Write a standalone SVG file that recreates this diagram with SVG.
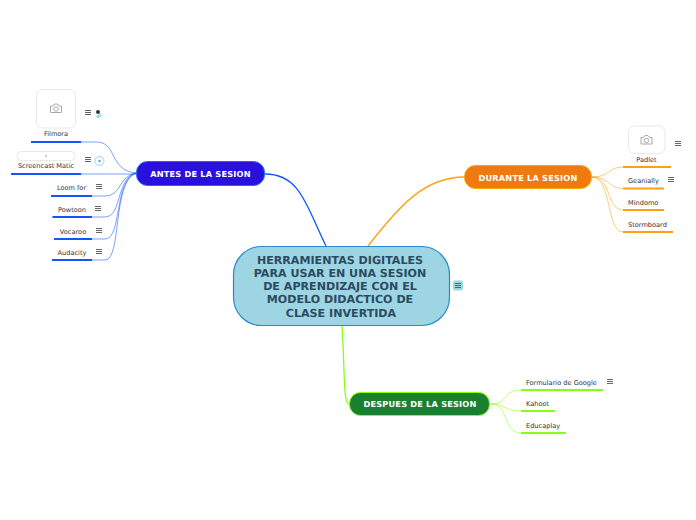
<svg xmlns="http://www.w3.org/2000/svg" width="696" height="520" viewBox="0 0 696 520">
<style>
text{font-family:"DejaVu Sans",Verdana,sans-serif;text-rendering:geometricPrecision}
.leaf{font-size:6.600px;fill:#333;text-anchor:middle}
.leafs{font-size:6.600px;fill:#333}
.branch{font-size:8.200px;font-weight:bold;fill:#fff;text-anchor:middle;letter-spacing:.2px}
.root{font-size:11.100px;font-weight:bold;fill:#2c4a60;text-anchor:middle}
.imgbox{fill:#fff;stroke:#e9e9e9;stroke-width:1}
.cam{fill:none;stroke:#a8a8a8;stroke-width:1}
.c{fill:none;stroke-width:1;opacity:.55}
.u{fill:none;stroke-width:2}
.main{fill:none;stroke-width:1.300}
.blue{stroke:#1155ff}.org{stroke:#ffa010}.grn{stroke:#88ff11}
</style>
<defs>
<g id="notes"><path d="M0 0.500H6M0 2.500H6M0 4.500H6" fill="none" stroke="#555" stroke-width=".9"/></g>
<g id="camera"><path class="cam" d="M-5.500 -2.500h2.500l1.500-2h3l1.500 2h2.500v6.500h-11z"/><circle class="cam" cx="0" cy="0.500" r="2.200"/></g>
</defs>
<g id="connectors">
<path class="main blue" d="M265 174C300 174 306 205 326 246"/>
<path class="main org" d="M464 177C425 177 400 205 368 246"/>
<path class="main grn" d="M349 404C343 404 345 370 342 326"/>
<g class="blue">
<path class="c" d="M81 142H96C118 142 108 170 136 173"/>
<path class="c" d="M81 174H136"/>
<path class="c" d="M92 196H105C122 196 118 176 136 173"/>
<path class="c" d="M92 217H105C122 217 116 178 136 173"/>
<path class="c" d="M92 239H105C122 239 114 180 136 173"/>
<path class="c" d="M92 260H105C122 260 112 182 136 173"/>
<path class="u" d="M31 142H81M11 174H81M51 196H92M52.500 217H92M54 239H92M52 260H92"/>
</g>
<g class="org">
<path class="c" d="M592 177C610 177 608 167 623 167"/>
<path class="c" d="M592 177C610 177 608 188.500 623 188.500"/>
<path class="c" d="M592 177C612 177 606 210 623 210"/>
<path class="c" d="M592 177C612 177 606 232 623 232"/>
<path class="u" d="M623 167H671M623 188.500H664M623 210H664M623 232H673"/>
</g>
<g class="grn">
<path class="c" d="M490 404C510 404 502 390 521 390"/>
<path class="c" d="M490 404C505 404 505 411 521 411"/>
<path class="c" d="M490 404C510 404 502 433 521 433"/>
<path class="u" d="M521 390H603M521 411H555M521 433H566"/>
</g>
</g>
<g id="root">
<rect x="233.500" y="246.500" width="216" height="79" rx="28" fill="#9dd5e3" stroke="#2a88cc" stroke-width="1.200"/>
<text class="root" x="340" y="264">HERRAMIENTAS DIGITALES</text>
<text class="root" x="340" y="277">PARA USAR EN UNA SESION</text>
<text class="root" x="340" y="290">DE APRENDIZAJE CON EL</text>
<text class="root" x="340" y="303">MODELO DIDACTICO DE</text>
<text class="root" x="341" y="317">CLASE INVERTIDA</text>
<rect x="453" y="280.500" width="10" height="10" rx="2" fill="#9dd5e3"/>
<use href="#notes" x="455" y="283"/>
</g>
<g id="antes">
<rect x="136.500" y="161.500" width="128" height="24" rx="11" fill="#2a10dd" stroke="#1a66ff"/>
<text class="branch" x="200.500" y="177">ANTES DE LA SESION</text>
</g>
<g id="durante">
<rect x="464.500" y="165.500" width="127" height="23" rx="11" fill="#ee7a10" stroke="#ffa500"/>
<text class="branch" x="528" y="180.500">DURANTE LA SESION</text>
</g>
<g id="despues">
<rect x="349.500" y="392.500" width="140" height="23" rx="11" fill="#1a8030" stroke="#88ff11"/>
<text class="branch" x="420" y="407">DESPUES DE LA SESION</text>
</g>
<g id="filmora">
<rect class="imgbox" x="36.500" y="89.500" width="39" height="38.500" rx="6"/>
<use href="#camera" x="56" y="108.500"/>
<text class="leaf" x="56" y="136">Filmora</text>
<use href="#notes" x="85" y="110"/>
<circle cx="98" cy="112" r="2" fill="#334"/>
<path d="M96 116l4-2 2 1-3 3h-2z" fill="#8fe3d8"/>
</g>
<g id="screencast">
<rect class="imgbox" x="17" y="151.500" width="58" height="9" rx="4"/>
<circle cx="46" cy="156" r="1.200" fill="#ccc"/>
<text class="leaf" x="46" y="168">Screencast Matic</text>
<use href="#notes" x="85" y="157"/>
<circle cx="99.500" cy="161" r="4.500" fill="#fff" stroke="#8cc4ee" stroke-width=".8"/>
<circle cx="99.500" cy="161" r="1.300" fill="#55aaee"/>
</g>
<g id="loom"><text class="leaf" x="71.500" y="190">Loom for</text><use href="#notes" x="96" y="184"/></g>
<g id="powtoon"><text class="leaf" x="72" y="212">Powtoon</text><use href="#notes" x="95" y="206"/></g>
<g id="vocaroo"><text class="leaf" x="73" y="234">Vocaroo</text><use href="#notes" x="96" y="228"/></g>
<g id="audacity"><text class="leaf" x="72" y="255">Audacity</text><use href="#notes" x="96" y="249"/></g>
<g id="padlet">
<rect class="imgbox" x="628.500" y="126" width="36.500" height="27.500" rx="6"/>
<use href="#camera" x="646.500" y="140"/>
<text class="leaf" x="646.500" y="162">Padlet</text>
<use href="#notes" x="675" y="141"/>
</g>
<g id="geanially"><text class="leafs" x="628" y="183">Geanially</text><use href="#notes" x="668" y="177"/></g>
<g id="mindomo"><text class="leafs" x="628" y="205">Mindomo</text></g>
<g id="stormboard"><text class="leafs" x="628" y="227">Stormboard</text></g>
<g id="formulario"><text class="leafs" x="526" y="385">Formulario de Google</text><use href="#notes" x="607" y="379"/></g>
<g id="kahoot"><text class="leafs" x="526" y="406">Kahoot</text></g>
<g id="educaplay"><text class="leafs" x="526" y="428">Educaplay</text></g>
</svg>
